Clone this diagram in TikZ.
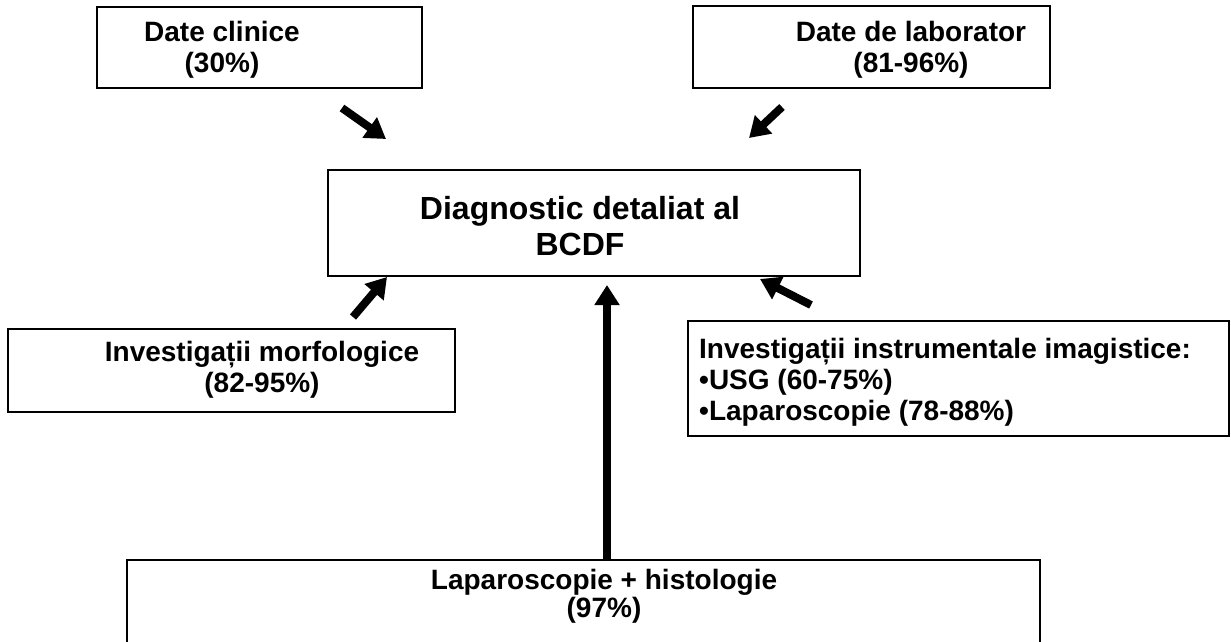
\documentclass[tikz,border=0pt]{standalone}
\usepackage{fontspec}
\setmainfont{Liberation Sans}
\usetikzlibrary{arrows.meta}

\tikzset{
  box/.style={draw=black, line width=2.4pt, rectangle, inner sep=0pt, fill=white},
  lbl/.style={font=\bfseries\fontsize{28}{31}\selectfont, align=center, inner sep=0pt},
  biglbl/.style={font=\bfseries\fontsize{32}{36}\selectfont, align=center, inner sep=0pt},
  blockarrow/.style={line width=8pt, -{Triangle[length=20pt,width=24pt]}}
}

\begin{document}
\begin{tikzpicture}[x=1pt,y=-1pt]
  \useasboundingbox (0,0) rectangle (1231,641);

  % source boxes
  \node[box, minimum width=325pt, minimum height=81pt] (clin) at (259.5,47.5) {};
  \node[lbl] (clintxt) at (222,50) {Date clinice\\(30\%)};

  \node[box, minimum width=357pt, minimum height=82pt] (lab) at (871.5,47) {};
  \node[lbl] (labtxt) at (911,50) {Date de laborator\\(81-96\%)};

  % central box
  \node[box, minimum width=532pt, minimum height=106pt] (diag) at (594,223) {};
  \node[biglbl] (diagtxt) at (580,226) {Diagnostic detaliat al\\BCDF};

  \node[box, minimum width=447pt, minimum height=83pt] (morf) at (231.5,370.5) {};
  \node[lbl] (morftxt) at (262,370) {Investigații morfologice\\(82-95\%)};

  \node[box, minimum width=541pt, minimum height=115pt] (instr) at (958.5,378.5) {};
  \node[lbl, align=left, anchor=west, font=\bfseries\fontsize{28}{31}\selectfont] (instrtxt) at (699,382)
    {Investigații instrumentale imagistice:\\•USG (60-75\%)\\•Laparoscopie (78-88\%)};

  % bottom box runs past the lower edge
  \node[box, minimum width=913pt, minimum height=100pt, anchor=north] (hist) at (583.5,559) {};
  \node[lbl, font=\bfseries\fontsize{28}{28}\selectfont] (histtxt) at (604,596) {Laparoscopie + histologie\\(97\%)};

  % arrow ends
  \coordinate (a1s) at (342,108);  \coordinate (a1e) at (386,139);
  \coordinate (a2s) at (782,107);  \coordinate (a2e) at (749,138);
  \coordinate (a3s) at (353,317);  \coordinate (a3e) at (387,277);
  \coordinate (a4s) at (811,305);  \coordinate (a4e) at (760,279);
  \coordinate (a5e) at (607,285);

  \draw[blockarrow] (a1s) -- (a1e);
  \draw[blockarrow] (a2s) -- (a2e);
  \draw[blockarrow] (a3s) -- (a3e);
  \draw[blockarrow] (a4s) -- (a4e);
  \draw[blockarrow] (hist.north -| a5e) -- (a5e);
\end{tikzpicture}
\end{document}
